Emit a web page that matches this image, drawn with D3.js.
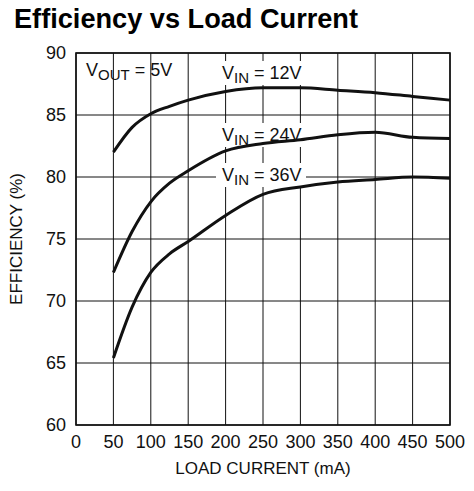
<!DOCTYPE html>
<html><head><meta charset="utf-8">
<script src="https://cdn.jsdelivr.net/npm/d3@7"></script>
<style>body{margin:0;background:#fff}text{font-family:"Liberation Sans",Arial,sans-serif}</style>
</head><body>
<svg id="c" width="474" height="491"></svg>
<script>
// load current (mA) vs efficiency (%)
const loadMA = [50, 75, 100, 125, 150, 200, 250, 300, 350, 400, 450, 500];
const vin12 = [82.0, 84.0, 85.1, 85.7, 86.2, 86.9, 87.2, 87.2, 87.0, 86.8, 86.5, 86.2];
const vin24 = [72.3, 75.6, 78.0, 79.5, 80.5, 82.1, 82.7, 83.0, 83.4, 83.6, 83.2, 83.1];
const vin36 = [65.4, 69.5, 72.3, 73.8, 74.8, 76.9, 78.6, 79.2, 79.6, 79.8, 80.0, 79.9];
const xTicks = d3.range(0, 501, 50);
const yTicks = d3.range(60, 91, 5);

const svg = d3.select("#c");
const x = d3.scaleLinear().domain([0, 500]).range([76, 450]);
const y = d3.scaleLinear().domain([60, 90]).range([425, 53]);

svg.append("text").attr("x", 14).attr("y", 28).attr("font-size", 27).attr("font-weight", "bold")
  .attr("textLength", 344).attr("lengthAdjust", "spacingAndGlyphs").text("Efficiency vs Load Current");

const grid = svg.append("g").attr("stroke", "#111").attr("stroke-width", 1);
grid.selectAll(".v").data(xTicks).join("line").attr("x1", d => x(d)).attr("x2", d => x(d)).attr("y1", y(90)).attr("y2", y(60));
grid.selectAll(".h").data(yTicks).join("line").attr("y1", d => y(d)).attr("y2", d => y(d)).attr("x1", x(0)).attr("x2", x(500));
svg.append("rect").attr("x", x(0)).attr("y", y(90)).attr("width", x(500) - x(0)).attr("height", y(60) - y(90))
  .attr("fill", "none").attr("stroke", "#111").attr("stroke-width", 1.6);

// label boxes hiding grid
function label(cx, cy, sub, val, w) {
  svg.append("rect").attr("x", cx - 6).attr("y", cy - 18).attr("width", w).attr("height", 24).attr("fill", "#fff");
  const t = svg.append("text").attr("x", cx).attr("y", cy).attr("font-size", 18).attr("fill", "#111");
  t.append("tspan").text("V");
  t.append("tspan").attr("font-size", 15).attr("dy", 4).text(sub);
  t.append("tspan").attr("dy", -4).text(val);
}
label(222, 79, "IN", " = 12V", 90);
label(222, 141, "IN", " = 24V", 90);
label(222, 181, "IN", " = 36V", 90);
label(86, 76, "OUT", " = 5V", 0);

const line = d3.line().x((d, i) => x(loadMA[i])).y(d => y(d)).curve(d3.curveMonotoneX);
svg.selectAll(".s").data([vin12, vin24, vin36]).join("path")
  .attr("d", line).attr("fill", "none").attr("stroke", "#111").attr("stroke-width", 3);

svg.selectAll(".xt").data(xTicks).join("text").attr("x", d => x(d)).attr("y", 448)
  .attr("text-anchor", "middle").attr("font-size", 18).attr("fill", "#111").text(d => d);
svg.selectAll(".yt").data(yTicks).join("text").attr("x", 66).attr("y", d => y(d) + 6)
  .attr("text-anchor", "end").attr("font-size", 18).attr("fill", "#111").text(d => d);
svg.append("text").attr("x", x(250)).attr("y", 474).attr("text-anchor", "middle").attr("font-size", 17).attr("fill", "#111").text("LOAD CURRENT (mA)");
svg.append("text").attr("transform", `translate(22,${y(75)}) rotate(-90)`).attr("text-anchor", "middle")
  .attr("font-size", 17).attr("fill", "#111").text("EFFICIENCY (%)");
</script>
</body></html>
